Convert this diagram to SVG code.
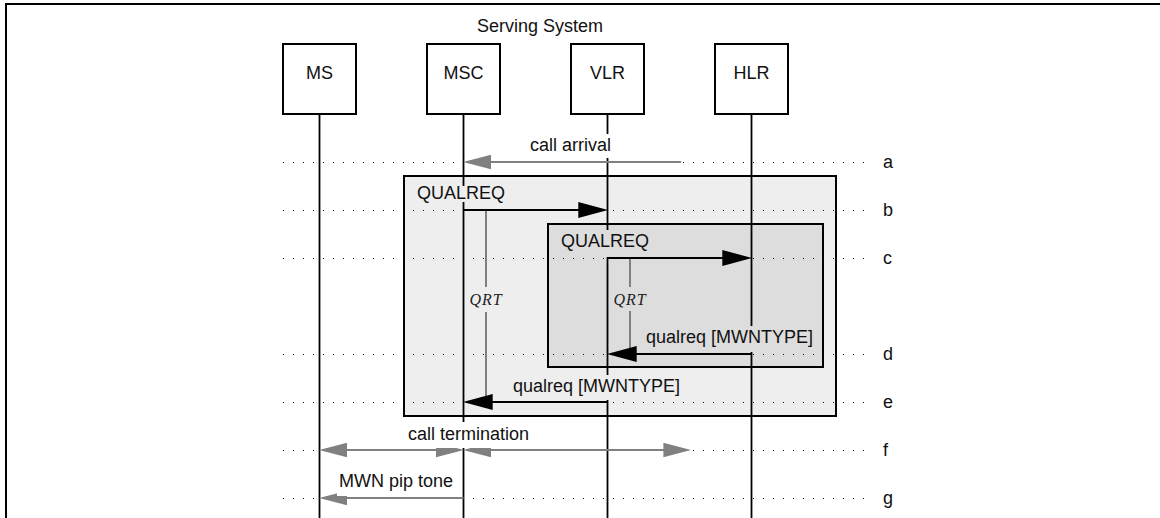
<svg xmlns="http://www.w3.org/2000/svg" width="1160" height="518" viewBox="0 0 1160 518">
<style>
text{font-family:"Liberation Sans",Arial,sans-serif;font-size:18px;fill:#111}
.box{fill:#fff;stroke:#000;stroke-width:2}
.life{stroke:#000;stroke-width:1.8;fill:none}
.row{stroke:#111;stroke-width:1.2;stroke-dasharray:1 9;fill:none}
.blk{stroke:#000;stroke-width:2;fill:none;marker-end:url(#ah)}
.gry{stroke:#808080;stroke-width:2;fill:none;marker-end:url(#gh)}
.gry2{stroke:#808080;stroke-width:2;fill:none;marker-start:url(#gh);marker-end:url(#gh)}
.tmr{stroke:#808080;stroke-width:2;fill:none}
.qrt{font-family:"Liberation Serif","Times New Roman",serif;font-style:italic;font-size:16px;letter-spacing:1px;text-anchor:middle;fill:#222}
.mid{text-anchor:middle}
</style>
<defs>
<marker id="ah" markerUnits="userSpaceOnUse" markerWidth="30" markerHeight="16" viewBox="0 0 28 15" refX="18" refY="7.5" orient="auto-start-reverse"><path d="M0,0L28,7.5L0,15z" fill="#000"/></marker>
<marker id="gh" markerUnits="userSpaceOnUse" markerWidth="28" markerHeight="15" viewBox="0 0 27 14" refX="17" refY="7" orient="auto-start-reverse"><path d="M0,0L27,7L0,14z" fill="#808080"/></marker>
</defs>
<path d="M6,518V4H1160" fill="none" stroke="#000" stroke-width="2"/>
<text x="477" y="32">Serving System</text>
<g id="outer-group"><rect x="404" y="176" width="432" height="240" fill="#eeeeee" stroke="#000" stroke-width="2"/></g>
<g id="inner-group"><rect x="548" y="224" width="275" height="143" fill="#dddddd" stroke="#000" stroke-width="2"/></g>
<g id="rows">
<path class="row" d="M283,162.5H866M283,210.5H866M283,258.5H866M283,354.5H866M283,402.5H866M283,450.5H866M283,498.5H866"/>
<text x="883" y="168">a</text><text x="883" y="216">b</text><text x="883" y="264">c</text><text x="883" y="360">d</text><text x="883" y="408">e</text><text x="883" y="456">f</text><text x="883" y="504">g</text>
</g>
<g id="MS"><rect class="box" x="283" y="44" width="73" height="70"/><text class="mid" x="319.5" y="79">MS</text><line class="life" x1="319.5" y1="114" x2="319.5" y2="518"/></g>
<g id="MSC"><rect class="box" x="427" y="44" width="73" height="70"/><text class="mid" x="463.5" y="79">MSC</text><line class="life" x1="463.5" y1="114" x2="463.5" y2="518"/></g>
<g id="VLR"><rect class="box" x="571" y="44" width="73" height="70"/><text class="mid" x="607.5" y="79">VLR</text><line class="life" x1="607.5" y1="114" x2="607.5" y2="518"/></g>
<g id="HLR"><rect class="box" x="715" y="44" width="73" height="70"/><text class="mid" x="751.5" y="79">HLR</text><line class="life" x1="751.5" y1="114" x2="751.5" y2="518"/></g>
<g id="timers">
<line class="tmr" x1="486" y1="210" x2="486" y2="402"/>
<rect x="470" y="287" width="32" height="25" fill="#eeeeee"/>
<text class="qrt" x="486" y="305">QRT</text>
<line class="tmr" x1="630" y1="258" x2="630" y2="354"/>
<rect x="614" y="287" width="32" height="24" fill="#dddddd"/>
<text class="qrt" x="630" y="305">QRT</text>
</g>
<g id="connectors">
<line class="gry" x1="681" y1="162" x2="473.5" y2="162"/>
<line class="blk" x1="463.5" y1="210" x2="597.5" y2="210"/>
<line class="blk" x1="607.5" y1="258" x2="741.5" y2="258"/>
<line class="blk" x1="751.5" y1="354" x2="617.5" y2="354"/>
<line class="blk" x1="607.5" y1="402" x2="473.5" y2="402"/>
<line class="gry2" x1="329.5" y1="450" x2="453.5" y2="450"/>
<line class="gry2" x1="473.5" y1="450" x2="681" y2="450"/>
<line class="gry" x1="463.5" y1="498" x2="329.5" y2="498"/>
</g>
<g id="labels">
<rect x="528" y="134" width="86" height="24" fill="#fff"/><text x="530" y="151">call arrival</text>
<rect x="415" y="186" width="92" height="16" fill="#eeeeee"/><text x="417" y="199">QUALREQ</text>
<rect x="559" y="230" width="92" height="27" fill="#dddddd"/><text x="561" y="247">QUALREQ</text>
<rect x="644" y="326" width="171" height="26" fill="#dddddd"/><text x="646" y="343">qualreq [MWNTYPE]</text>
<rect x="511" y="375" width="171" height="25" fill="#eeeeee"/><text x="513" y="392">qualreq [MWNTYPE]</text>
<rect x="406" y="422" width="125" height="26" fill="#fff"/><text x="408" y="440">call termination</text>
<rect x="337" y="470" width="118" height="26" fill="#fff"/><text x="339" y="487">MWN pip tone</text>
</g>
</svg>
